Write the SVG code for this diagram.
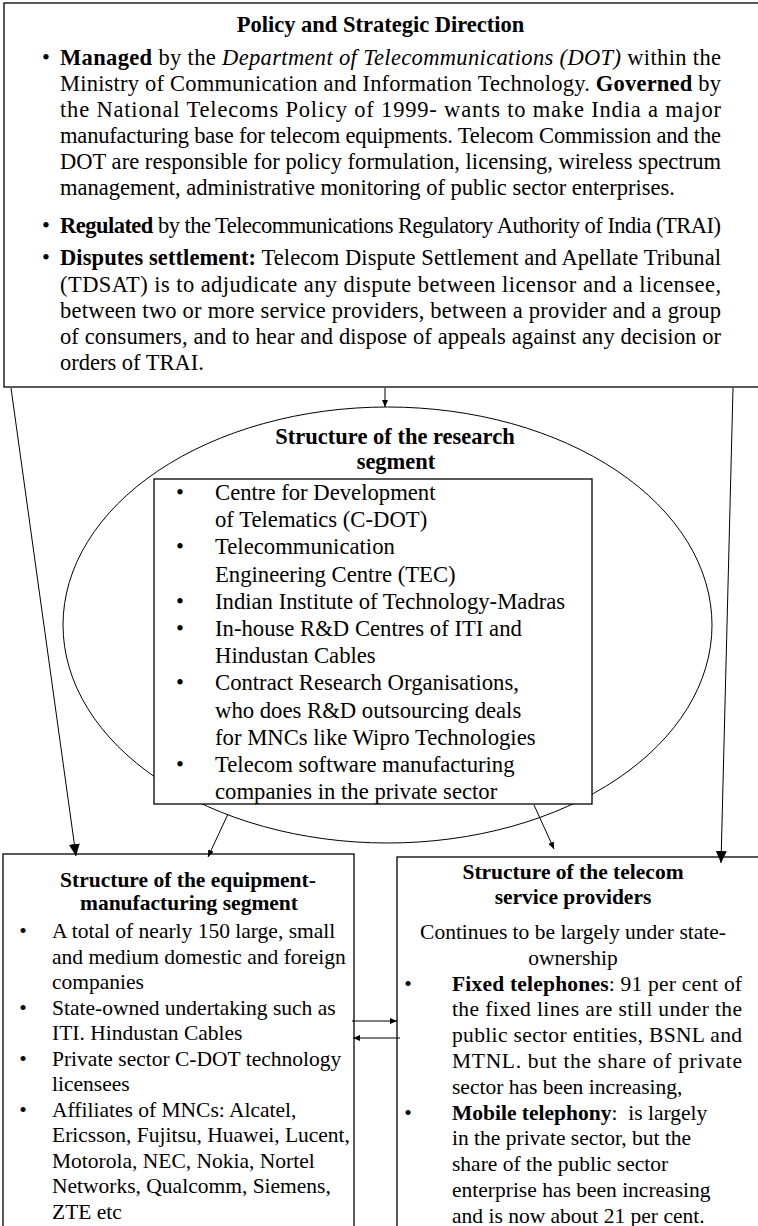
<svg xmlns="http://www.w3.org/2000/svg" width="758" height="1226" viewBox="0 0 758 1226">
<style>
.t{font-family:"Liberation Serif","Times New Roman",serif;fill:#000}
.f1{font-size:22.5px}
.f2{font-size:22.7px}
.f3{font-size:21.5px}
.b{font-weight:bold}
.i{font-style:italic}
.c{text-anchor:middle}
.box{fill:#fff;stroke:#000;stroke-width:1.3}
.ln{fill:none;stroke:#000;stroke-width:1}
</style>
<defs>
<marker id="big" markerUnits="userSpaceOnUse" markerWidth="12" markerHeight="11" refX="12" refY="5.5" orient="auto"><path d="M0,0 L12,5.5 L0,11 z" fill="#000"/></marker>
<marker id="sm" markerUnits="userSpaceOnUse" markerWidth="7" markerHeight="6" refX="7" refY="3" orient="auto"><path d="M0,0 L7,3 L0,6 z" fill="#000"/></marker>
</defs>

<g id="node-policy">
<rect class="box" x="4" y="3" width="760" height="384"/>
<text class="t f1 b c" x="380.5" y="32">Policy and Strategic Direction</text>
<text class="t f1" x="46" y="65" text-anchor="middle">•</text>
<text class="t f1" x="60" y="65" textLength="661" lengthAdjust="spacing"><tspan class="b">Managed</tspan> by the <tspan class="i">Department of Telecommunications (DOT)</tspan> within the</text>
<text class="t f1" x="60" y="91" textLength="661" lengthAdjust="spacing">Ministry of Communication and Information Technology. <tspan class="b">Governed</tspan> by</text>
<text class="t f1" x="60" y="117" textLength="661" lengthAdjust="spacing">the National Telecoms Policy of 1999- wants to make India a major</text>
<text class="t f1" x="60" y="143" textLength="661" lengthAdjust="spacing">manufacturing base for telecom equipments. Telecom Commission and the</text>
<text class="t f1" x="60" y="169" textLength="661" lengthAdjust="spacing">DOT are responsible for policy formulation, licensing, wireless spectrum</text>
<text class="t f1" x="60" y="195">management, administrative monitoring of public sector enterprises.</text>
<text class="t f1" x="46" y="233" text-anchor="middle">•</text>
<text class="t f1" x="60" y="233" textLength="661" lengthAdjust="spacing"><tspan class="b">Regulated</tspan> by the Telecommunications Regulatory Authority of India (TRAI)</text>
<text class="t f1" x="46" y="265" text-anchor="middle">•</text>
<text class="t f1" x="60" y="265" textLength="661" lengthAdjust="spacing"><tspan class="b">Disputes settlement:</tspan> Telecom Dispute Settlement and Apellate Tribunal</text>
<text class="t f1" x="60" y="291.5" textLength="661" lengthAdjust="spacing">(TDSAT) is to adjudicate any dispute between licensor and a licensee,</text>
<text class="t f1" x="60" y="318" textLength="661" lengthAdjust="spacing">between two or more service providers, between a provider and a group</text>
<text class="t f1" x="60" y="344" textLength="661" lengthAdjust="spacing">of consumers, and to hear and dispose of appeals against any decision or</text>
<text class="t f1" x="60" y="370">orders of TRAI.</text>
</g>

<g id="node-research">
<ellipse class="ln" cx="387.5" cy="625" rx="324.5" ry="218"/>
<text class="t f1 b c" x="395" y="444">Structure of the research</text>
<text class="t f1 b c" x="396" y="469">segment</text>
<rect class="box" x="154" y="479" width="438" height="325"/>
<g class="t f2">
<text x="180" y="500" text-anchor="middle">•</text><text x="215" y="500">Centre for Development</text>
<text x="215" y="527.2">of Telematics (C-DOT)</text>
<text x="180" y="554.4" text-anchor="middle">•</text><text x="215" y="554.4">Telecommunication</text>
<text x="215" y="581.6">Engineering Centre (TEC)</text>
<text x="180" y="608.8" text-anchor="middle">•</text><text x="215" y="608.8">Indian Institute of Technology-Madras</text>
<text x="180" y="636" text-anchor="middle">•</text><text x="215" y="636">In-house R&amp;D Centres of ITI and</text>
<text x="215" y="663.2">Hindustan Cables</text>
<text x="180" y="690.4" text-anchor="middle">•</text><text x="215" y="690.4">Contract Research Organisations,</text>
<text x="215" y="717.6">who does R&amp;D outsourcing deals</text>
<text x="215" y="744.8">for MNCs like Wipro Technologies</text>
<text x="180" y="772" text-anchor="middle">•</text><text x="215" y="772">Telecom software manufacturing</text>
<text x="215" y="799.2">companies in the private sector</text>
</g>
</g>

<g id="node-equipment">
<rect class="box" x="3" y="854" width="351" height="380"/>
<text class="t f3 b c" x="188" y="887">Structure of the equipment-</text>
<text class="t f3 b c" x="189" y="910">manufacturing segment</text>
<g class="t f3">
<text x="23" y="938" text-anchor="middle">•</text><text x="52" y="938">A total of nearly 150 large, small</text>
<text x="52" y="963.5">and medium domestic and foreign</text>
<text x="52" y="989">companies</text>
<text x="23" y="1014.5" text-anchor="middle">•</text><text x="52" y="1014.5">State-owned undertaking such as</text>
<text x="52" y="1040">ITI. Hindustan Cables</text>
<text x="23" y="1065.5" text-anchor="middle">•</text><text x="52" y="1065.5">Private sector C-DOT technology</text>
<text x="52" y="1091">licensees</text>
<text x="23" y="1116.5" text-anchor="middle">•</text><text x="52" y="1116.5">Affiliates of MNCs: Alcatel,</text>
<text x="52" y="1142">Ericsson, Fujitsu, Huawei, Lucent,</text>
<text x="52" y="1167.5">Motorola, NEC, Nokia, Nortel</text>
<text x="52" y="1193">Networks, Qualcomm, Siemens,</text>
<text x="52" y="1218.5">ZTE etc</text>
</g>
</g>

<g id="node-service">
<rect class="box" x="397" y="857" width="365" height="380"/>
<text class="t f3 b c" x="573" y="879">Structure of the telecom</text>
<text class="t f3 b c" x="573" y="904">service providers</text>
<g class="t f3">
<text x="573" y="939" text-anchor="middle">Continues to be largely under state-</text>
<text x="573" y="965" text-anchor="middle">ownership</text>
<text x="408" y="990.6" text-anchor="middle">•</text>
<text x="452" y="990.6" textLength="290" lengthAdjust="spacing"><tspan class="b">Fixed telephones</tspan>: 91 per cent of</text>
<text x="452" y="1016.4" textLength="290" lengthAdjust="spacing">the fixed lines are still under the</text>
<text x="452" y="1042.2" textLength="290" lengthAdjust="spacing">public sector entities, BSNL and</text>
<text x="452" y="1068" textLength="290" lengthAdjust="spacing">MTNL. but the share of private</text>
<text x="452" y="1093.8">sector has been increasing,</text>
<text x="408" y="1119.6" text-anchor="middle">•</text>
<text x="452" y="1119.6"><tspan class="b">Mobile telephony</tspan>:&#160; is largely</text>
<text x="452" y="1145.4">in the private sector, but the</text>
<text x="452" y="1171.2">share of the public sector</text>
<text x="452" y="1197">enterprise has been increasing</text>
<text x="452" y="1222.8">and is now about 21 per cent.</text>
</g>
</g>

<g id="connectors" class="ln">
<line class="ln" x1="385" y1="388" x2="385" y2="407" marker-end="url(#sm)"/>
<line class="ln" x1="11" y1="388" x2="76" y2="856" marker-end="url(#big)"/>
<line class="ln" x1="733" y1="388" x2="721" y2="863" marker-end="url(#big)"/>
<line class="ln" x1="228" y1="814" x2="208" y2="857" marker-end="url(#sm)"/>
<line class="ln" x1="534" y1="805" x2="554" y2="849" marker-end="url(#sm)"/>
<line class="ln" x1="352" y1="1021" x2="397" y2="1021" marker-end="url(#sm)"/>
<line class="ln" x1="400" y1="1038" x2="353" y2="1038" marker-end="url(#sm)"/>
</g>
</svg>
